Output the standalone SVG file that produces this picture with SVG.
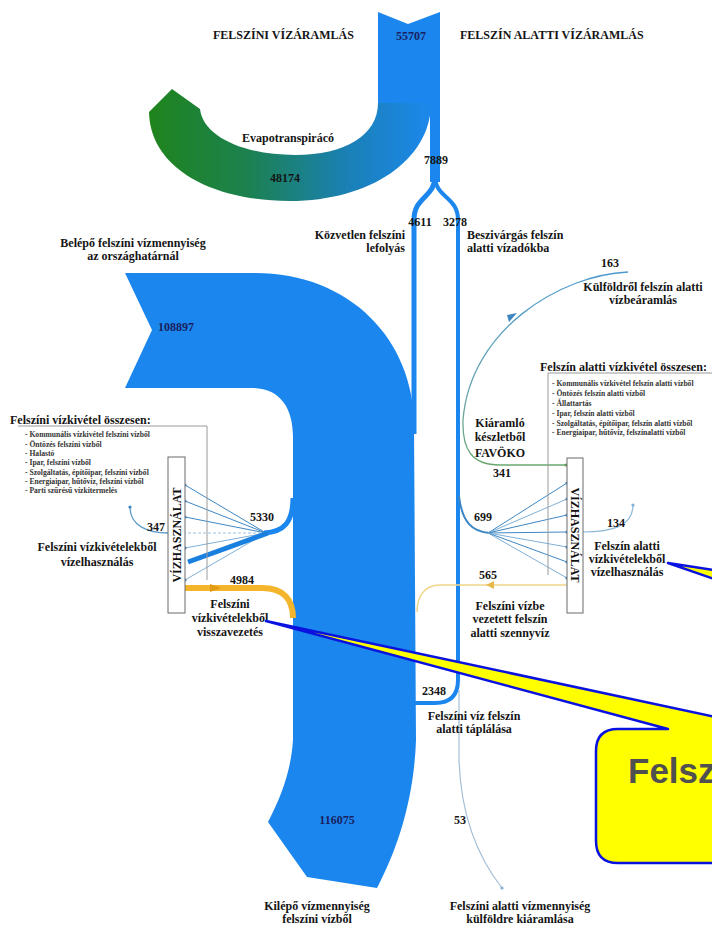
<svg xmlns="http://www.w3.org/2000/svg" width="712" height="925" viewBox="0 0 712 925">
  <defs>
    <linearGradient id="evapo" gradientUnits="userSpaceOnUse" x1="150" y1="0" x2="432" y2="0">
      <stop offset="0" stop-color="#1f841c"/>
      <stop offset="0.35" stop-color="#1c8150"/>
      <stop offset="0.7" stop-color="#1a80b6"/>
      <stop offset="1" stop-color="#1c88ec"/>
    </linearGradient>
    <linearGradient id="favoko" gradientUnits="userSpaceOnUse" x1="0" y1="270" x2="0" y2="470">
      <stop offset="0" stop-color="#4a9ad0"/>
      <stop offset="0.6" stop-color="#6aa6b0"/>
      <stop offset="1" stop-color="#6aa86a"/>
    </linearGradient>
    <marker id="dot" viewBox="0 0 4 4" refX="2" refY="2" markerWidth="4" markerHeight="4" markerUnits="userSpaceOnUse">
      <circle cx="2" cy="2" r="1.6" fill="#3f87c2"/>
    </marker>
    <marker id="dotLight" viewBox="0 0 4 4" refX="2" refY="2" markerWidth="4" markerHeight="4" markerUnits="userSpaceOnUse">
      <circle cx="2" cy="2" r="1.6" fill="#7fb0d8"/>
    </marker>
    <marker id="dotGreen" viewBox="0 0 4 4" refX="2" refY="2" markerWidth="4" markerHeight="4" markerUnits="userSpaceOnUse">
      <circle cx="2" cy="2" r="1.6" fill="#5e9e5e"/>
    </marker>
  </defs>
  <style>
    text { font-family: "Liberation Serif", "Times New Roman", serif; font-weight: bold; fill: #151515; }
    .lbl { font-size: 12px; }
    .mid { text-anchor: middle; }
    .end { text-anchor: end; }
    .num { font-size: 12px; fill: #1a2060; }
    .list { font-size: 7.6px; fill: #333; }
    .flow { fill: #1b87ee; }
    .stream { fill: none; stroke: #1b87ee; }
    .thin { fill: none; stroke: #3f87c2; stroke-width: 1; }
    .bracket { fill: none; stroke: #9a9a9a; stroke-width: 1; }
    .usebox { fill: #ffffff; stroke: #6a6a6a; stroke-width: 1; }
    .boxtxt { font-size: 12px; fill: #111; }
    .callout { fill: #ffff00; stroke: #0a12e0; stroke-width: 2.5; stroke-linejoin: round; }
  </style>

  <!-- headings -->
  <g id="headings">
    <text class="lbl" x="213" y="39">FELSZÍNI VÍZÁRAMLÁS</text>
    <text class="lbl" x="460" y="39">FELSZÍN ALATTI VÍZÁRAMLÁS</text>
  </g>

  <g id="connectors">
    <!-- precipitation inflow and evapotranspiration loop -->
    <path class="flow" d="M378,12 L408,24 L440,12 L440,108 L378,108 Z"/>
    <path fill="url(#evapo)" d="M378,103 C378,135 345,155 295,155 C245,155 203,137 200,109 L172,89 L149,112 C150,167 210,201 290,201 C370,201 431,160 431,103 Z"/>
    <!-- 7889 split into runoff and infiltration -->
    <path class="stream" stroke-width="10" d="M435,100 L435,182"/>
    <path class="stream" stroke-width="5" d="M435,176 C435,198 414,196 414,220 L414,434"/>
    <path class="stream" stroke-width="4" d="M435,176 C435,198 458,196 458,220 L458,680 Q458,703 435,703 L414,703"/>

    <!-- main surface water stream -->
    <path class="flow" d="M125,273 L255,273 C350,273 414,340 414,425 L416,740 C414,800 397,850 377,888 L307,877 L268,822 C282,795 291,770 293,740 L293,437 C293,408 280,388 252,388 L125,388 L152,330 Z"/>

    <!-- surface abstraction 5330 -->
    <path class="stream" stroke-width="5" d="M293,498 C293,522 284,532 264,533"/>
    <g class="thin" marker-end="url(#dot)">
      <path d="M266,533 L185,485"/>
      <path d="M266,533 L185,501"/>
      <path d="M266,533 L185,517"/>
      <path d="M266,533 L185,548" stroke="#7fb0d8"/>
      <path d="M266,533 L185,580" stroke="#7fb0d8"/>
    </g>
    <path d="M266,533 L172,533" fill="none" stroke="#9ec0dc" stroke-width="1" stroke-dasharray="3,2"/>
    <path d="M268,533 L188,562" fill="none" stroke="#1a80e0" stroke-width="5"/>
    <!-- 347 -->
    <path d="M168,533 C148,533 130,526 130,507" fill="none" stroke="#5e9cc8" stroke-width="1.3" marker-end="url(#dot)"/>
    <!-- 4984 return -->
    <path d="M185,588 L262,588 C284,588 293,600 293,618" fill="none" stroke="#f4b52c" stroke-width="6"/>
    <path d="M210,584 L221,588 L210,592 Z" fill="#e29a12"/>

    <!-- inflow from abroad 163 / FAVÖKO 341 -->
    <path d="M628,272 C560,275 470,330 463,420 C462,450 472,465 500,465 L566,465" fill="none" stroke="url(#favoko)" stroke-width="1.3" marker-end="url(#dotGreen)"/>
    <path d="M517,313 L509,322 L507,315 Z" fill="#3f87c2"/>

    <!-- groundwater abstraction 699 -->
    <path d="M459,496 C462,522 472,532 490,533" fill="none" stroke="#3a85c4" stroke-width="2"/>
    <g class="thin" marker-end="url(#dot)">
      <path d="M488,533 L567,483"/>
      <path d="M488,533 L567,499" stroke="#7fb0d8"/>
      <path d="M488,533 L567,515"/>
      <path d="M488,533 L567,532"/>
      <path d="M488,533 L567,547" stroke="#7fb0d8"/>
      <path d="M488,533 L567,562"/>
      <path d="M488,533 L567,578" stroke="#7fb0d8"/>
    </g>
    <!-- 134 -->
    <path d="M583,532 C612,532 633,526 633,505" fill="none" stroke="#8ab6d8" stroke-width="1.2" marker-end="url(#dotLight)"/>
    <!-- 565 sewage to surface water -->
    <path d="M567,585 L440,585 C424,585 417,597 417,612" fill="none" stroke="#f0d488" stroke-width="1.5"/>
    <path d="M486,585 L494,581 L494,589 Z" fill="#e6b84a"/>
    <!-- 53 outflow abroad -->
    <path d="M459,690 L459,760 C461,820 480,860 502,888" fill="none" stroke="#a4bfd8" stroke-width="1.2" marker-end="url(#dotLight)"/>
  </g>

  <!-- abstraction lists -->
  <g id="surface-list">
    <path class="bracket" d="M18,426 L207,426 L207,580"/>
    <text class="lbl" x="10" y="424">Felszíni vízkivétel összesen:</text>
    <text class="list" x="25" y="437">- Kommunális vízkivétel felszíni vízből</text>
    <text class="list" x="25" y="447">- Öntözés felszíni vízből</text>
    <text class="list" x="25" y="456">- Halastó</text>
    <text class="list" x="25" y="465">- Ipar, felszíni vízből</text>
    <text class="list" x="25" y="475">- Szolgáltatás, építőipar, felszíni vízből</text>
    <text class="list" x="25" y="484">- Energiaipar, hűtővíz, felszíni vízből</text>
    <text class="list" x="25" y="493">- Parti szűrésű vízkitermelés</text>
  </g>
  <g id="ground-list">
    <path class="bracket" d="M712,373 L548,373 L548,575"/>
    <text class="lbl" x="540" y="371">Felszín alatti vízkivétel összesen:</text>
    <text class="list" x="552" y="386">- Kommunális vízkivétel felszín alatti vízből</text>
    <text class="list" x="552" y="396">- Öntözés felszín alatti vízből</text>
    <text class="list" x="552" y="406">- Állattartás</text>
    <text class="list" x="552" y="416">- Ipar, felszín alatti vízből</text>
    <text class="list" x="552" y="426">- Szolgáltatás, építőipar, felszín alatti vízből</text>
    <text class="list" x="552" y="435">- Energiaipar, hűtővíz, felszínalatti vízből</text>
  </g>

  <!-- water use boxes -->
  <g id="use-surface">
    <rect class="usebox" x="168" y="457" width="17" height="156"/>
    <text class="boxtxt mid" transform="translate(180.5,535) rotate(-90)">VÍZHASZNÁLAT</text>
  </g>
  <g id="use-ground">
    <rect class="usebox" x="567" y="458" width="16" height="155"/>
    <text class="boxtxt mid" transform="translate(571,535) rotate(90)">VÍZHASZNÁLAT</text>
  </g>

  <!-- labels -->
  <g id="labels">
    <text class="num mid" x="411" y="40">55707</text>
    <text class="lbl mid" x="288" y="142">Evapotranspirácó</text>
    <text class="lbl mid" x="285" y="182">48174</text>
    <text class="lbl mid" x="436" y="164">7889</text>
    <text class="lbl mid" x="420" y="226">4611</text>
    <text class="lbl mid" x="455" y="226">3278</text>
    <text class="lbl end" x="405" y="239">Közvetlen felszíni</text>
    <text class="lbl end" x="405" y="252">lefolyás</text>
    <text class="lbl" x="467" y="239">Beszivárgás felszín</text>
    <text class="lbl" x="467" y="252">alatti vízadókba</text>
    <text class="lbl mid" x="133" y="247">Belépő felszíni vízmennyiség</text>
    <text class="lbl mid" x="133" y="260">az országhatárnál</text>
    <text class="num mid" x="176" y="331">108897</text>
    <text class="lbl mid" x="610" y="267">163</text>
    <text class="lbl mid" x="643" y="291">Külföldről felszín alatti</text>
    <text class="lbl mid" x="643" y="304">vízbeáramlás</text>
    <text class="lbl mid" x="500" y="427">Kiáramló</text>
    <text class="lbl mid" x="500" y="441">készletből</text>
    <text class="lbl mid" x="500" y="457">FAVÖKO</text>
    <text class="lbl mid" x="502" y="477">341</text>
    <text class="lbl mid" x="483" y="521">699</text>
    <text class="lbl mid" x="616" y="527">134</text>
    <text class="lbl mid" x="627" y="550">Felszín alatti</text>
    <text class="lbl mid" x="627" y="563">vízkivételekből</text>
    <text class="lbl mid" x="627" y="576">vízelhasználás</text>
    <text class="lbl mid" x="488" y="579">565</text>
    <text class="lbl mid" x="510" y="610">Felszíni vízbe</text>
    <text class="lbl mid" x="510" y="623">vezetett felszín</text>
    <text class="lbl mid" x="510" y="637">alatti szennyvíz</text>
    <text class="lbl mid" x="434" y="695">2348</text>
    <text class="lbl mid" x="474" y="720">Felszíni víz felszín</text>
    <text class="lbl mid" x="474" y="733">alatti táplálása</text>
    <text class="lbl mid" x="460" y="824">53</text>
    <text class="num mid" x="337" y="824">116075</text>
    <text class="lbl mid" x="317" y="910">Kilépő vízmennyiség</text>
    <text class="lbl mid" x="317" y="923">felszíni vízből</text>
    <text class="lbl mid" x="520" y="910">Felszíni alatti vízmennyiség</text>
    <text class="lbl mid" x="520" y="923">külföldre kiáramlása</text>
    <text class="lbl mid" x="262" y="521">5330</text>
    <text class="lbl mid" x="156" y="531">347</text>
    <text class="lbl mid" x="97" y="551">Felszíni vízkivételekből</text>
    <text class="lbl mid" x="97" y="566">vízelhasználás</text>
    <text class="lbl mid" x="242" y="584">4984</text>
    <text class="lbl mid" x="230" y="608">Felszíni</text>
    <text class="lbl mid" x="230" y="622">vízkivételekből</text>
    <text class="lbl mid" x="230" y="636">visszavezetés</text>
  </g>

  <!-- callouts -->
  <g id="callout-ground">
    <path class="callout" d="M668,563 L740,574 L740,588 Z"/>
  </g>
  <g id="callout-surface">
    <path class="callout" d="M618,729 L668,729 L266,621 L772,729 L820,729 L820,863 L618,863 Q596,863 596,841 L596,751 Q596,729 618,729 Z"/>
    <text x="628" y="783" style="font-family:'Liberation Sans',Arial,sans-serif;font-size:35px;font-weight:bold;fill:#505050">Felsz</text>
  </g>
</svg>
